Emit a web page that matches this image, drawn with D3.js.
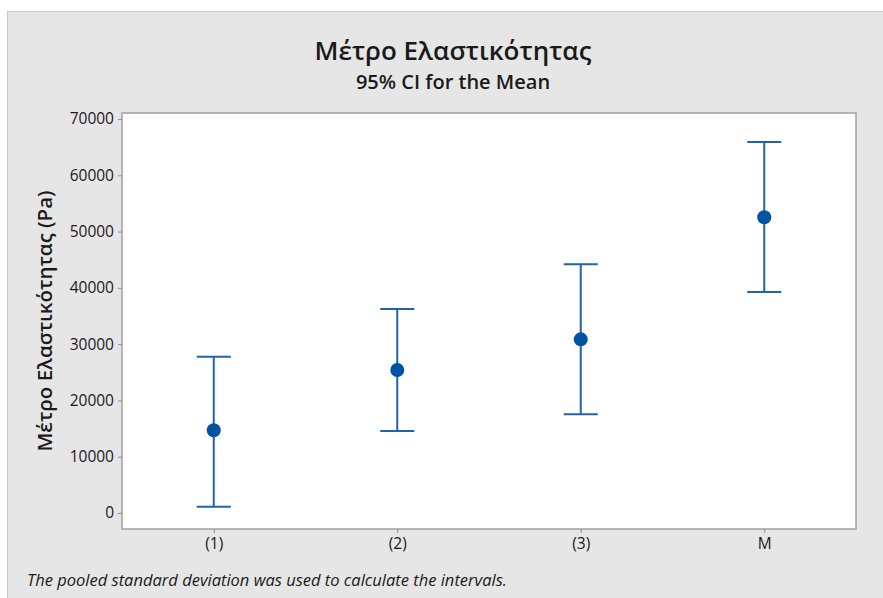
<!DOCTYPE html>
<html>
<head>
<meta charset="utf-8">
<script src="https://cdn.jsdelivr.net/npm/d3@7"></script>
<style>
  body { margin: 0; background: #fff; }
  svg { display: block; font-family: "Open Sans", "Noto Sans", sans-serif; }
</style>
</head>
<body>
<div id="chart"></div>
<script>
const width = 883;
const height = 598;

// data
const categories = ["(1)", "(2)", "(3)", "M"];
const means = [14700, 25400, 30850, 52550];
const lower = [1100, 14550, 17550, 39250];
const upper = [27750, 36250, 44200, 65900];
const yTicks = [0, 10000, 20000, 30000, 40000, 50000, 60000, 70000];

const plot = { left: 122, right: 856, top: 113, bottom: 529 };

let svg = d3.select("#chart")
    .append("svg")
    .attr("width", width)
    .attr("height", height);

// outer panel
svg.append("rect")
    .attr("x", 7.5).attr("y", 11.5)
    .attr("width", width).attr("height", height)
    .attr("fill", "#e6e6e6")
    .attr("stroke", "#c8c8c8");

// plot area
svg.append("rect")
    .attr("x", plot.left).attr("y", plot.top)
    .attr("width", plot.right - plot.left).attr("height", plot.bottom - plot.top)
    .attr("fill", "#fff")
    .attr("stroke", "#a0a0a0")
    .attr("stroke-width", 1.5);

// scales
const xScale = d3.scalePoint()
    .domain(categories)
    .range([plot.left, plot.right])
    .padding(0.5);
const yScale = d3.scaleLinear()
    .domain([0, 70000])
    .range([513, 119]);

// axes
const yAxis = svg.append("g")
    .attr("transform", "translate(" + plot.left + ",0)")
    .call(d3.axisLeft(yScale).tickValues(yTicks).tickSize(4).tickPadding(4).tickFormat(d3.format("d")));
const xAxis = svg.append("g")
    .attr("transform", "translate(0," + plot.bottom + ")")
    .call(d3.axisBottom(xScale).tickSize(4).tickPadding(5));

[yAxis, xAxis].forEach(a => {
    a.select(".domain").remove();
    a.selectAll(".tick line").attr("stroke", "#909090");
    a.selectAll(".tick text")
        .attr("fill", "#1a1a1a")
        .style("font-size", "15.5px")
        .style("font-family", "'Open Sans', sans-serif");
});

// interval bars
const lineColor = "#1f62ae";
const capHalf = 17;
const g = svg.append("g");

categories.forEach((c, i) => {
    const x = xScale(c);
    g.append("line")
        .attr("x1", x).attr("x2", x)
        .attr("y1", yScale(upper[i])).attr("y2", yScale(lower[i]))
        .attr("stroke", lineColor).attr("stroke-width", 2);
    [upper[i], lower[i]].forEach(v => {
        g.append("line")
            .attr("x1", x - capHalf).attr("x2", x + capHalf)
            .attr("y1", yScale(v)).attr("y2", yScale(v))
            .attr("stroke", lineColor).attr("stroke-width", 2);
    });
    g.append("circle")
        .attr("cx", x).attr("cy", yScale(means[i]))
        .attr("r", 7)
        .attr("fill", "#0052a3");
});

// titles
svg.append("text")
    .attr("x", 453).attr("y", 60)
    .attr("text-anchor", "middle")
    .attr("fill", "#1a1a1a")
    .style("font-size", "26px")
    .style("font-weight", 600)
    .text("Μέτρο Ελαστικότητας");

svg.append("text")
    .attr("x", 453).attr("y", 89)
    .attr("text-anchor", "middle")
    .attr("fill", "#1a1a1a")
    .style("font-size", "20px")
    .style("font-weight", 600)
    .text("95% CI for the Mean");

// y label
svg.append("text")
    .attr("transform", "translate(52," + ((plot.top + plot.bottom) / 2) + ") rotate(-90)")
    .attr("text-anchor", "middle")
    .attr("fill", "#1a1a1a")
    .style("font-size", "20.5px")
    .style("font-weight", 600)
    .text("Μέτρο Ελαστικότητας (Pa)");

// footnote
svg.append("text")
    .attr("x", 27).attr("y", 586)
    .attr("fill", "#1a1a1a")
    .style("font-size", "16.5px")
    .style("font-style", "italic")
    .text("The pooled standard deviation was used to calculate the intervals.");
</script>
</body>
</html>
